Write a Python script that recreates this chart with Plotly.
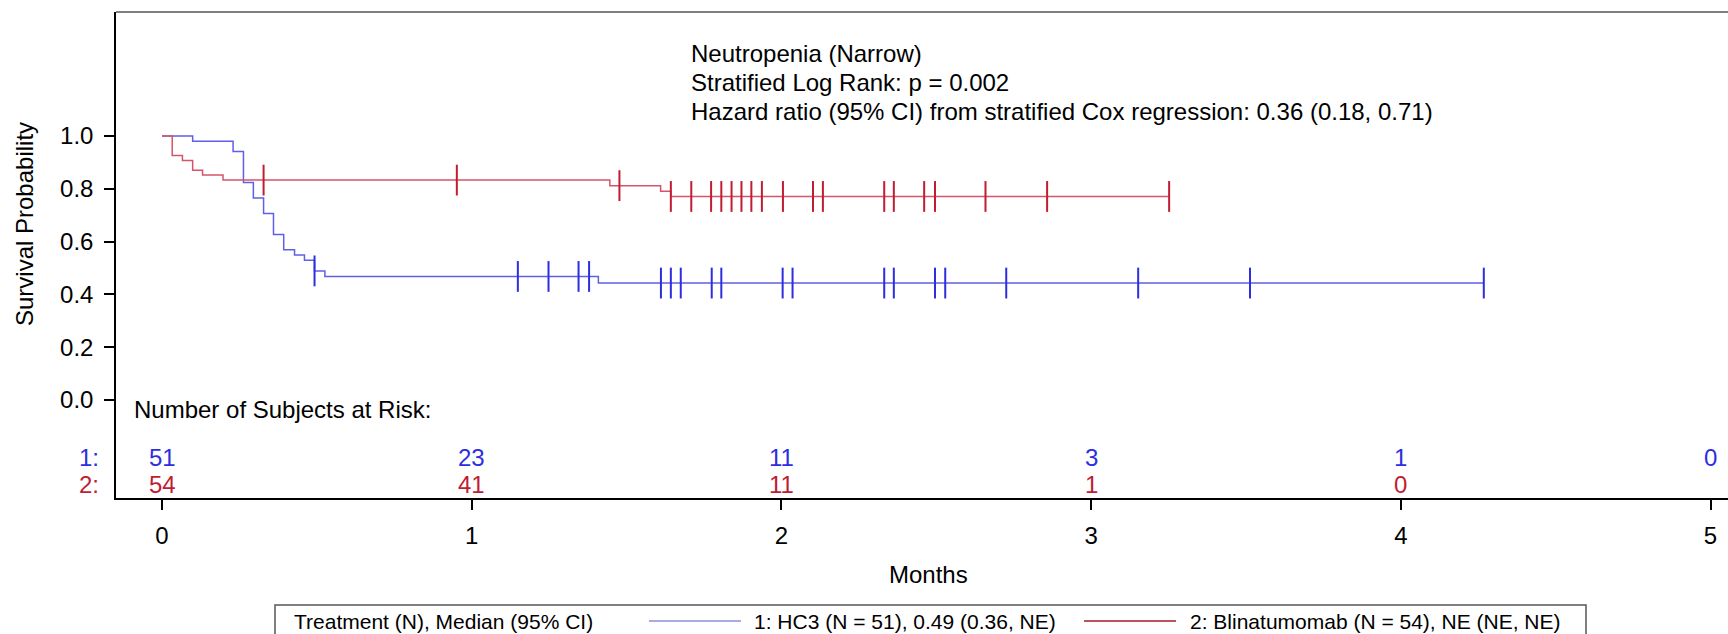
import plotly.graph_objects as go

# ---- data ----
hc3_time = [0, 0.099, 0.2295, 0.263, 0.295, 0.328, 0.360, 0.393, 0.428, 0.460, 0.4925, 0.526, 1.409, 4.268]
hc3_surv = [1.0, 0.980, 0.941, 0.8235, 0.765, 0.706, 0.627, 0.569, 0.549, 0.529, 0.489, 0.468, 0.443, 0.443]
hc3_cens = [0.4925, 1.149, 1.248, 1.345, 1.379, 1.611, 1.643, 1.675, 1.775, 1.806, 2.004, 2.036,
            2.332, 2.363, 2.496, 2.529, 2.726, 3.152, 3.513, 4.268]

bli_time = [0, 0.033, 0.066, 0.099, 0.131, 0.197, 1.446, 1.610, 1.643, 3.252]
bli_surv = [1.0, 0.926, 0.907, 0.870, 0.852, 0.833, 0.812, 0.791, 0.771, 0.771]
bli_cens = [0.328, 0.952, 1.477, 1.643, 1.709, 1.773, 1.806, 1.839, 1.871, 1.903, 1.937, 2.005,
            2.102, 2.134, 2.332, 2.363, 2.461, 2.496, 2.659, 2.858, 3.252]

risk_times = [0, 1, 2, 3, 4, 5]
risk_hc3 = [51, 23, 11, 3, 1, 0]
risk_bli = [54, 41, 11, 1, 0]

x_ticks = [0, 1, 2, 3, 4, 5]
y_ticks = [0.0, 0.2, 0.4, 0.6, 0.8, 1.0]
y_ticklabels = ["0.0", "0.2", "0.4", "0.6", "0.8", "1.0"]

stat_lines = ["Neutropenia (Narrow)",
              "Stratified Log Rank: p = 0.002",
              "Hazard ratio (95% CI) from stratified Cox regression: 0.36 (0.18, 0.71)"]
legend_title = "Treatment (N), Median (95% CI)"
legend_hc3 = "1: HC3 (N = 51), 0.49 (0.36, NE)"
legend_bli = "2: Blinatumomab (N = 54), NE (NE, NE)"

# ---- styling ----
FONT = "Liberation Sans, Arial, sans-serif"
FS = 24
BLUE_LINE = "rgb(95,95,232)"
BLUE_MARK = "rgb(45,45,225)"
RED_LINE = "rgb(212,85,105)"
RED_MARK = "rgb(192,28,50)"
BLUE_TXT = "rgb(45,45,225)"
RED_TXT = "rgb(192,28,50)"


def surv_at(times, surv, t):
    v = surv[0]
    for ti, si in zip(times, surv):
        if ti <= t + 1e-9:
            v = si
    return v


W, H = 1728, 634
L, R, T, B = 116, 0, 12, 136
plot_w = W - L - R
plot_h = H - T - B


def px_x(px):
    return (px - L) / plot_w


def px_y(py):
    return (H - B - py) / plot_h


fig = go.Figure()

fig.add_trace(go.Scatter(x=hc3_time, y=hc3_surv, mode="lines", line=dict(shape="hv", color=BLUE_LINE, width=1.5),
                         showlegend=False, hoverinfo="skip"))
fig.add_trace(go.Scatter(x=bli_time, y=bli_surv, mode="lines", line=dict(shape="hv", color=RED_LINE, width=1.5),
                         showlegend=False, hoverinfo="skip"))
fig.add_trace(go.Scatter(x=hc3_cens, y=[surv_at(hc3_time, hc3_surv, t) for t in hc3_cens], mode="markers",
                         marker=dict(symbol="line-ns", size=22, line=dict(color=BLUE_MARK, width=2)),
                         showlegend=False, hoverinfo="skip"))
fig.add_trace(go.Scatter(x=bli_cens, y=[surv_at(bli_time, bli_surv, t) for t in bli_cens], mode="markers",
                         marker=dict(symbol="line-ns", size=22, line=dict(color=RED_MARK, width=2)),
                         showlegend=False, hoverinfo="skip"))

annotations = []
# stats text
for i, txt in enumerate(stat_lines):
    annotations.append(dict(x=px_x(689), y=px_y(53 + 29.5 * i), xref="paper", yref="paper", text=txt,
                            showarrow=False, xanchor="left", yanchor="middle",
                            font=dict(family=FONT, size=FS, color="black")))
# risk table
annotations.append(dict(x=px_x(132), y=px_y(409), xref="paper", yref="paper", text="Number of Subjects at Risk:",
                        showarrow=False, xanchor="left", yanchor="middle",
                        font=dict(family=FONT, size=FS, color="black")))
for t, n in zip(risk_times, risk_hc3):
    annotations.append(dict(x=t, y=px_y(457), xref="x", yref="paper", text=str(n), showarrow=False,
                            xanchor="center", yanchor="middle", font=dict(family=FONT, size=FS, color=BLUE_TXT)))
for t, n in zip(risk_times, risk_bli):
    annotations.append(dict(x=t, y=px_y(484), xref="x", yref="paper", text=str(n), showarrow=False,
                            xanchor="center", yanchor="middle", font=dict(family=FONT, size=FS, color=RED_TXT)))
annotations.append(dict(x=px_x(101), y=px_y(457), xref="paper", yref="paper", text="1:", showarrow=False,
                        xanchor="right", yanchor="middle", font=dict(family=FONT, size=FS, color=BLUE_TXT)))
annotations.append(dict(x=px_x(101), y=px_y(484), xref="paper", yref="paper", text="2:", showarrow=False,
                        xanchor="right", yanchor="middle", font=dict(family=FONT, size=FS, color=RED_TXT)))
# axis titles
annotations.append(dict(x=px_x(928), y=px_y(574), xref="paper", yref="paper", text="Months", showarrow=False,
                        xanchor="center", yanchor="middle", font=dict(family=FONT, size=FS, color="black")))
annotations.append(dict(x=px_x(24), y=px_y(224), xref="paper", yref="paper", text="Survival Probability",
                        showarrow=False, textangle=-90, xanchor="center", yanchor="middle",
                        font=dict(family=FONT, size=FS, color="black")))
# legend texts
leg_y = px_y(621)
annotations.append(dict(x=px_x(292), y=leg_y, xref="paper", yref="paper", text=legend_title, showarrow=False,
                        xanchor="left", yanchor="middle", font=dict(family=FONT, size=21, color="black")))
annotations.append(dict(x=px_x(752), y=leg_y, xref="paper", yref="paper", text=legend_hc3, showarrow=False,
                        xanchor="left", yanchor="middle", font=dict(family=FONT, size=21, color="black")))
annotations.append(dict(x=px_x(1188), y=leg_y, xref="paper", yref="paper", text=legend_bli, showarrow=False,
                        xanchor="left", yanchor="middle", font=dict(family=FONT, size=21, color="black")))

shapes = [
    # top frame line
    dict(type="line", xref="paper", yref="paper", x0=0, x1=1, y0=1, y1=1, line=dict(color="rgb(85,85,85)", width=1.5)),
    # legend box
    dict(type="rect", xref="paper", yref="paper", x0=px_x(275), x1=px_x(1586), y0=px_y(605), y1=px_y(650),
         line=dict(color="rgb(85,85,85)", width=1.5)),
    dict(type="line", xref="paper", yref="paper", x0=px_x(649), x1=px_x(741), y0=leg_y, y1=leg_y,
         line=dict(color="rgb(140,140,225)", width=1.5)),
    dict(type="line", xref="paper", yref="paper", x0=px_x(1084), x1=px_x(1176), y0=leg_y, y1=leg_y,
         line=dict(color="rgb(165,25,40)", width=1.5)),
]

x0_px_month = 162.0
px_per_month = 309.7
x_lo = (L - x0_px_month) / px_per_month
x_hi = (W - R - x0_px_month) / px_per_month
y0_px, y1_px = 400.0, 136.0
px_per_unit = y0_px - y1_px
y_lo = (y0_px - (H - B)) / px_per_unit
y_hi = (y0_px - T) / px_per_unit

fig.update_layout(
    width=W, height=H,
    margin=dict(l=L, r=R, t=T, b=B, pad=0),
    paper_bgcolor="white", plot_bgcolor="white",
    font=dict(family=FONT, size=FS, color="black"),
    annotations=annotations, shapes=shapes,
    xaxis=dict(range=[x_lo, x_hi], tickvals=x_ticks, ticktext=[str(v) for v in x_ticks],
               showgrid=False, zeroline=False, showline=True, linecolor="black", linewidth=2,
               ticks="outside", ticklen=10, tickwidth=1.5, tickcolor="black", ticklabelstandoff=5,
               tickfont=dict(family=FONT, size=FS, color="black")),
    yaxis=dict(range=[y_lo, y_hi], tickvals=y_ticks, ticktext=y_ticklabels,
               showgrid=False, zeroline=False, showline=True, linecolor="black", linewidth=1.5,
               ticks="outside", ticklen=10, tickwidth=1.5, tickcolor="black", ticklabelstandoff=6,
               tickfont=dict(family=FONT, size=FS, color="black")),
)

fig.write_html("out.html")
